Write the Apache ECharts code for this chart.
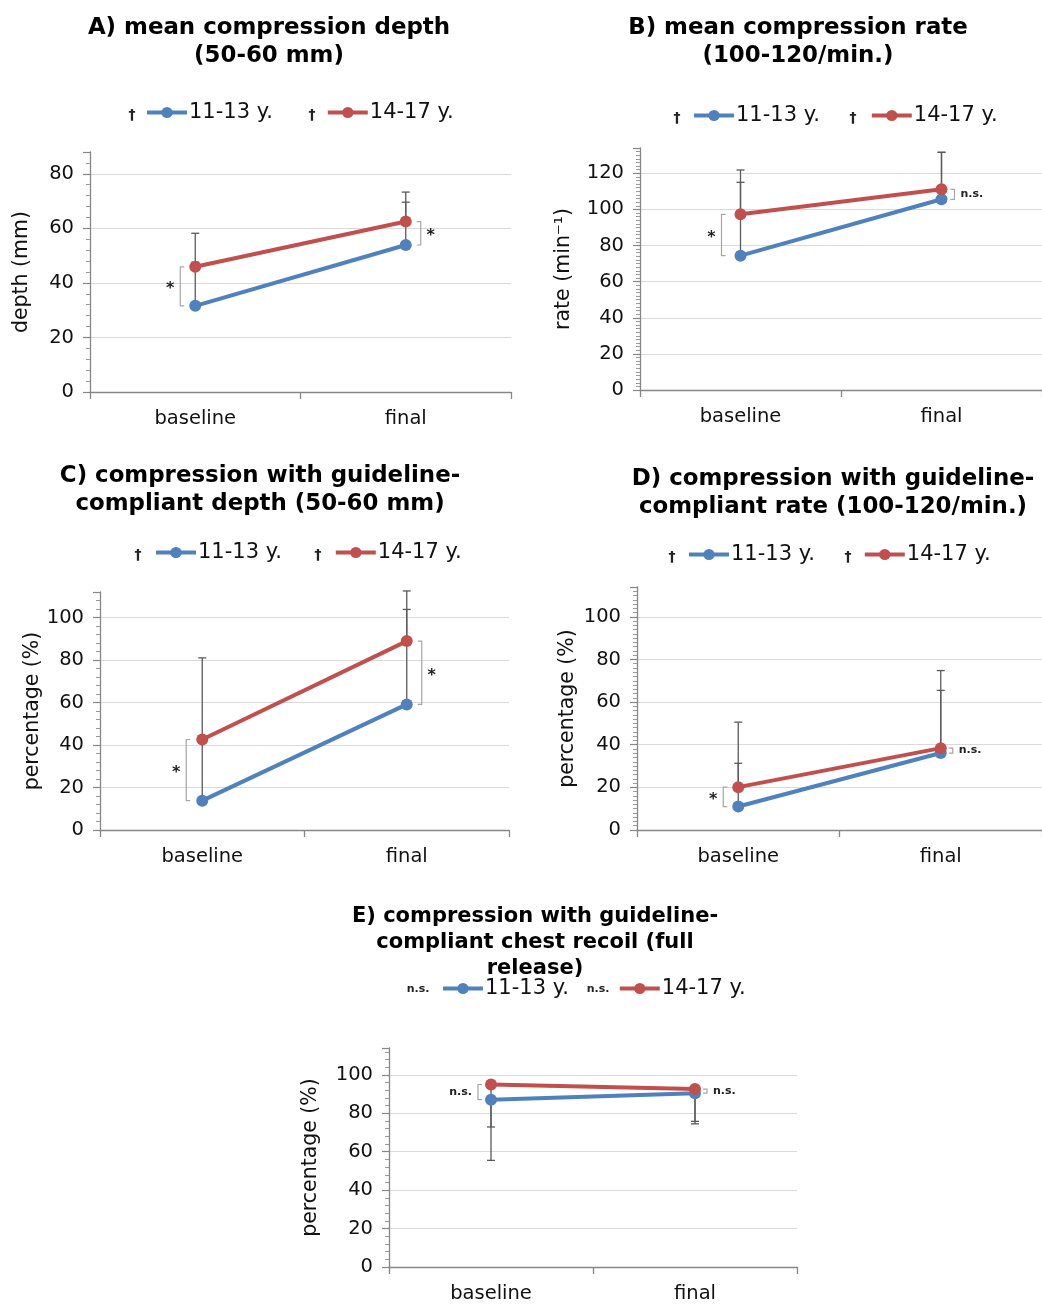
<!DOCTYPE html>
<html>
<head>
<meta charset="utf-8">
<script src="https://cdn.jsdelivr.net/npm/echarts@6/dist/echarts.min.js"></script>
<style>
  html, body { margin: 0; padding: 0; background: #fff; }
  #chart { width: 1042px; height: 1304px; }
</style>
</head>
<body>
<div id="chart"></div>
<script>
// categories and groups
const categories = ['baseline', 'final'];
const groupNames = ['11-13 y.', '14-17 y.'];

// A) mean compression depth (mm)
const depthYoung = [31.6, 53.9];
const depthOld = [45.9, 62.5];
const depthYoungSD = [16.0, 15.7];
const depthOldSD = [12.3, 10.8];
const depthSig = ['*', '*'];

// B) mean compression rate (1/min)
const rateYoung = [74.4, 105.6];
const rateOld = [97.3, 111.1];
const rateYoungSD = [40.6, 26.0];
const rateOldSD = [24.5, 20.5];
const rateSig = ['*', 'n.s.'];

// C) % compressions with guideline-compliant depth
const cDepthYoung = [13.8, 59.1];
const cDepthOld = [42.6, 88.9];
const cDepthYoungSD = [28.7, 44.7];
const cDepthOldSD = [38.4, 23.6];
const cDepthSig = ['*', '*'];

// D) % compressions with guideline-compliant rate
const cRateYoung = [11.0, 36.1];
const cRateOld = [20.1, 38.4];
const cRateYoungSD = [20.3, 29.4];
const cRateOldSD = [30.5, 36.4];
const cRateSig = ['*', 'n.s.'];

// E) % compressions with full chest recoil (error bars drawn downward)
const recoilYoung = [87.1, 90.5];
const recoilOld = [95.0, 92.6];
const recoilYoungSD = [31.6, 16.0];
const recoilOldSD = [22.1, 16.8];
const recoilSig = ['n.s.', 'n.s.'];

const yTickStep = 20;

const BLUE = '#4f81bd';
const RED = '#c0504d';
const FONT = '"DejaVu Sans", Verdana, sans-serif';

const panels = [
  { title: 'A) mean compression depth\n(50-60 mm)', tx: 269, ty: 14, tSize: 22.9, tLine: 28,
    grid: { left: 90, top: 152, width: 421, height: 240 }, max: 88, minor: 5,
    yName: 'depth (mm)', nameGap: 58,
    legend: { left: 145, top: 102, gap: 53 }, prefix: '†', prefixX: [132, 312],
    young: depthYoung, old: depthOld, youngSD: depthYoungSD, oldSD: depthOldSD, dir: 1,
    sig: depthSig, brOff: [-15, 15] },
  { title: 'B) mean compression rate\n(100-120/min.)', tx: 798, ty: 14, tSize: 22.9, tLine: 28,
    grid: { left: 640, top: 148, width: 406, height: 242 }, max: 134, minor: 10,
    yName: 'rate (min⁻¹)', nameGap: 66,
    legend: { left: 692, top: 105, gap: 50 }, prefix: '†', prefixX: [677, 853],
    young: rateYoung, old: rateOld, youngSD: rateYoungSD, oldSD: rateOldSD, dir: 1,
    sig: rateSig, brOff: [-19, 13] },
  { title: 'C) compression with guideline-\ncompliant depth (50-60 mm)', tx: 260, ty: 462, tSize: 22.9, tLine: 28,
    grid: { left: 100, top: 592, width: 409, height: 238 }, max: 112, minor: 5,
    yName: 'percentage (%)', nameGap: 55,
    legend: { left: 154, top: 542, gap: 52 }, prefix: '†', prefixX: [138, 318],
    young: cDepthYoung, old: cDepthOld, youngSD: cDepthYoungSD, oldSD: cDepthOldSD, dir: 1,
    sig: cDepthSig, brOff: [-16, 15] },
  { title: 'D) compression with guideline-\ncompliant rate (100-120/min.)', tx: 833, ty: 465, tSize: 22.9, tLine: 28,
    grid: { left: 637, top: 587, width: 410, height: 243 }, max: 114, minor: 10,
    yName: 'percentage (%)', nameGap: 59,
    legend: { left: 687, top: 544, gap: 48 }, prefix: '†', prefixX: [672, 848],
    young: cRateYoung, old: cRateOld, youngSD: cRateYoungSD, oldSD: cRateOldSD, dir: 1,
    sig: cRateSig, brOff: [-15, 12] },
  { title: 'E) compression with guideline-\ncompliant chest recoil (full\nrelease)', tx: 535, ty: 904, tSize: 21, tLine: 26,
    grid: { left: 389, top: 1048, width: 408, height: 220 }, max: 114, minor: 5,
    yName: 'percentage (%)', nameGap: 68,
    legend: { left: 441, top: 978, gap: 49 }, prefix: 'n.s.', prefixX: [418, 598],
    young: recoilYoung, old: recoilOld, youngSD: recoilYoungSD, oldSD: recoilOldSD, dir: -1,
    sig: recoilSig, brOff: [-13, 12] }
];

function errorBars(params, api) {
  const cat = api.value(0), mean = api.value(1), sd = api.value(2), dir = api.value(3);
  const p0 = api.coord([cat, mean]);
  const p1 = api.coord([cat, mean + dir * sd]);
  const st = { stroke: '#5a5a5a', lineWidth: 1.3 };
  return { type: 'group', children: [
    { type: 'line', shape: { x1: p0[0], y1: p0[1], x2: p1[0], y2: p1[1] }, style: st },
    { type: 'line', shape: { x1: p1[0] - 4, y1: p1[1], x2: p1[0] + 4, y2: p1[1] }, style: st }
  ] };
}

function makeBrackets(panel) {
  return function (params, api) {
    const cat = api.value(0), a = api.value(1), b = api.value(2);
    const side = cat === 0 ? -1 : 1;
    const off = cat === 0 ? panel.brOff[0] : panel.brOff[1];
    const pa = api.coord([cat, a]);
    const pb = api.coord([cat, b]);
    const x = pa[0] + off;
    const arm = -side * 4;
    const label = panel.sig[params.dataIndex];
    const isStar = label === '*';
    const midY = (pa[1] + pb[1]) / 2;
    return { type: 'group', children: [
      { type: 'polyline', shape: { points: [[x + arm, pa[1]], [x, pa[1]], [x, pb[1]], [x + arm, pb[1]]] },
        style: { stroke: '#a6a6a6', lineWidth: 1.2, fill: null } },
      { type: 'text', x: isStar ? x + side * 10 : x + side * 6, y: isStar ? midY + 3 : midY,
        style: { text: label, fill: '#222', fontFamily: FONT,
          fontSize: isStar ? 16 : 11, fontWeight: 'bold',
          align: isStar ? 'center' : (side < 0 ? 'right' : 'left'), verticalAlign: 'middle' } }
    ] };
  };
}

const grids = [], xAxes = [], yAxes = [], series = [], legends = [], graphics = [];

panels.forEach(function (p, i) {
  grids.push(Object.assign({ containLabel: false }, p.grid));
  xAxes.push({
    type: 'category', gridIndex: i, data: categories, boundaryGap: true,
    axisLine: { lineStyle: { color: '#868686', width: 1.3 } },
    axisTick: { show: true, length: 7, lineStyle: { color: '#868686', width: 1.3 } },
    axisLabel: { color: '#111', fontSize: 19.5, fontFamily: FONT, margin: 17 },
    splitLine: { show: false }
  });
  yAxes.push({
    type: 'value', gridIndex: i, min: 0, max: p.max, interval: yTickStep,
    name: p.yName, nameLocation: 'middle', nameRotate: 90, nameGap: p.nameGap,
    nameTextStyle: { color: '#111', fontSize: 20.5, fontFamily: FONT },
    axisLine: { show: true, lineStyle: { color: '#868686', width: 1.3 } },
    axisTick: { show: true, length: 7, lineStyle: { color: '#868686', width: 1.2 } },
    minorTick: { show: true, splitNumber: p.minor, length: 4, lineStyle: { color: '#9a9a9a', width: 1 } },
    axisLabel: { color: '#111', fontSize: 19.5, fontFamily: FONT, margin: 16, showMaxLabel: false,
      formatter: function (v) { return v % yTickStep === 0 ? String(v) : ''; } },
    splitLine: { show: true, showMaxLine: false, lineStyle: { color: '#d9d9d9', width: 1.2 } }
  });

  const errData = [];
  categories.forEach(function (c, k) {
    errData.push([k, p.young[k], p.youngSD[k], p.dir]);
    errData.push([k, p.old[k], p.oldSD[k], p.dir]);
  });
  series.push({
    type: 'custom', xAxisIndex: i, yAxisIndex: i, z: 1, silent: true,
    renderItem: errorBars, data: errData
  });
  series.push({
    type: 'custom', xAxisIndex: i, yAxisIndex: i, z: 1, silent: true,
    renderItem: makeBrackets(p),
    data: categories.map(function (c, k) { return [k, p.young[k], p.old[k]]; })
  });
  [[groupNames[0], p.young, BLUE], [groupNames[1], p.old, RED]].forEach(function (s) {
    series.push({
      name: s[0], type: 'line', xAxisIndex: i, yAxisIndex: i, z: 3, data: s[1],
      symbol: 'circle', symbolSize: 12, color: s[2],
      lineStyle: { color: s[2], width: 4 }, itemStyle: { color: s[2] }, animation: false
    });
  });

  legends.push({
    data: groupNames, left: p.legend.left, top: p.legend.top, itemGap: p.legend.gap,
    itemWidth: 40, itemHeight: 14, selectedMode: false, padding: 0,
    lineStyle: { width: 4 },
    textStyle: { color: '#111', fontSize: 21, fontFamily: FONT, padding: [0, 0, 0, -3] }
  });

  graphics.push({
    type: 'text', x: p.tx, y: p.ty,
    style: { text: p.title, fill: '#000', fontFamily: FONT, fontWeight: 'bold',
      fontSize: p.tSize, lineHeight: p.tLine, align: 'center', verticalAlign: 'top' }
  });
  p.prefixX.forEach(function (x) {
    const dagger = p.prefix === '†';
    graphics.push({
      type: 'text', x: x, y: p.legend.top + (dagger ? 13 : 11),
      style: { text: p.prefix, fill: '#222', fontFamily: FONT, fontWeight: 'bold',
        fontSize: dagger ? 14 : 11, align: 'center', verticalAlign: 'middle' }
    });
  });
});

const chart = echarts.init(document.getElementById('chart'), null, { renderer: 'canvas' });
chart.setOption({
  animation: false,
  backgroundColor: '#fff',
  grid: grids,
  xAxis: xAxes,
  yAxis: yAxes,
  legend: legends,
  graphic: graphics,
  series: series
});
</script>
</body>
</html>
